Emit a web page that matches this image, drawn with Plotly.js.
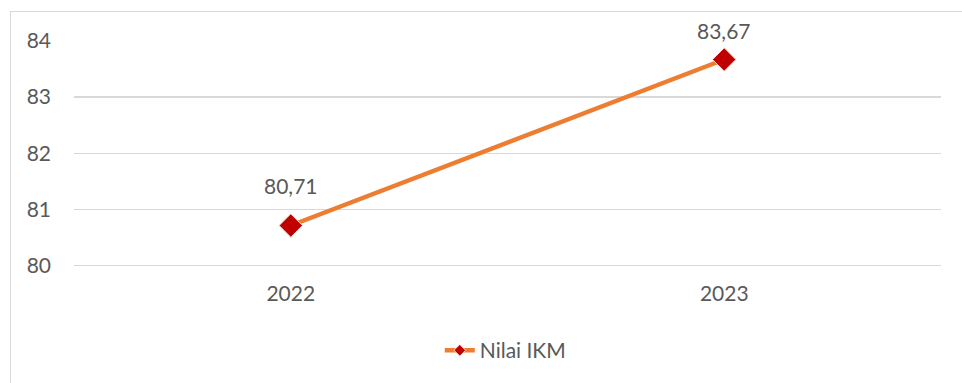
<!DOCTYPE html>
<html>
<head>
<meta charset="utf-8">
<script src="https://cdn.plot.ly/plotly-3.0.1.min.js"></script>
<style>
  html, body { margin: 0; padding: 0; background: #ffffff; }
  #wrap { position: relative; width: 962px; height: 383px; overflow: hidden; }
  #frame { position: absolute; left: 10px; top: 11px; width: 980px; height: 400px;
           border: 1px solid #D9D9D9; box-sizing: border-box; pointer-events: none; }
  #chart { position: absolute; left: 0; top: 0; width: 962px; height: 383px; }
</style>
</head>
<body>
<div id="wrap">
  <div id="chart"></div>
  <div id="frame"></div>
</div>
<script>
// Indeks Kepuasan Masyarakat per tahun
const years = ['2022', '2023'];
const ikmValues = [80.71, 83.67];
const yTicks = [80, 81, 82, 83, 84];

const textColor = '#595959';
const fontFamily = 'Lato, "Open Sans", sans-serif';
const lineColor = '#ED7D31';
const markerColor = '#C00000';
const markerEdge = '#FBE5D6';

// main series (kept out of the legend; a compact legend entry follows)
const series = {
  x: years,
  y: ikmValues,
  type: 'scatter',
  mode: 'lines+markers',
  name: 'Nilai IKM',
  showlegend: false,
  line: { color: lineColor, width: 4.5 },
  marker: { symbol: 'diamond', size: 18, color: markerColor,
            line: { color: markerEdge, width: 1 } },
  cliponaxis: false,
  hoverinfo: 'skip'
};

const legendEntry = {
  x: [null],
  y: [null],
  type: 'scatter',
  mode: 'lines+markers',
  name: 'Nilai IKM',
  line: { color: lineColor, width: 4.5 },
  marker: { symbol: 'diamond', size: 9, color: markerColor,
            line: { color: markerEdge, width: 1 } },
  hoverinfo: 'skip'
};

// value labels above each point (category axis: position by index);
// the upper label is tucked closer so it stays inside the frame
const labelLift = [40, 29];
const labels = years.map((yr, i) => ({
  x: i,
  y: ikmValues[i],
  xref: 'x',
  yref: 'y',
  text: ikmValues[i].toFixed(2).replace('.', ','),
  showarrow: false,
  yshift: labelLift[i],
  font: { family: fontFamily, size: 21, color: textColor }
}));

const layout = {
  width: 962,
  height: 383,
  margin: { l: 74, r: 21, t: 41, b: 114 },
  paper_bgcolor: 'rgba(0,0,0,0)',
  plot_bgcolor: 'rgba(0,0,0,0)',
  separators: ',.',
  font: { family: fontFamily, size: 21, color: textColor },
  xaxis: {
    type: 'category',
    range: [-0.5, 1.5],
    showgrid: false,
    showline: false,
    zeroline: false,
    ticks: '',
    ticklabelstandoff: 12,
    tickfont: { family: fontFamily, size: 21, color: textColor }
  },
  yaxis: {
    range: [79.97, 84],
    tickvals: yTicks,
    ticktext: yTicks.map(String),
    showgrid: true,
    gridcolor: '#D9D9D9',
    gridwidth: 1.3,
    zeroline: false,
    showline: false,
    ticks: '',
    ticklabelstandoff: 22,
    tickfont: { family: fontFamily, size: 21, color: textColor }
  },
  annotations: labels,
  showlegend: true,
  legend: {
    orientation: 'h',
    x: 0.498,
    xanchor: 'center',
    y: -0.37,
    yanchor: 'middle',
    font: { family: fontFamily, size: 21, color: textColor },
    bgcolor: 'rgba(0,0,0,0)'
  }
};

Plotly.newPlot('chart', [series, legendEntry], layout, { displayModeBar: false, staticPlot: true });
</script>
</body>
</html>
